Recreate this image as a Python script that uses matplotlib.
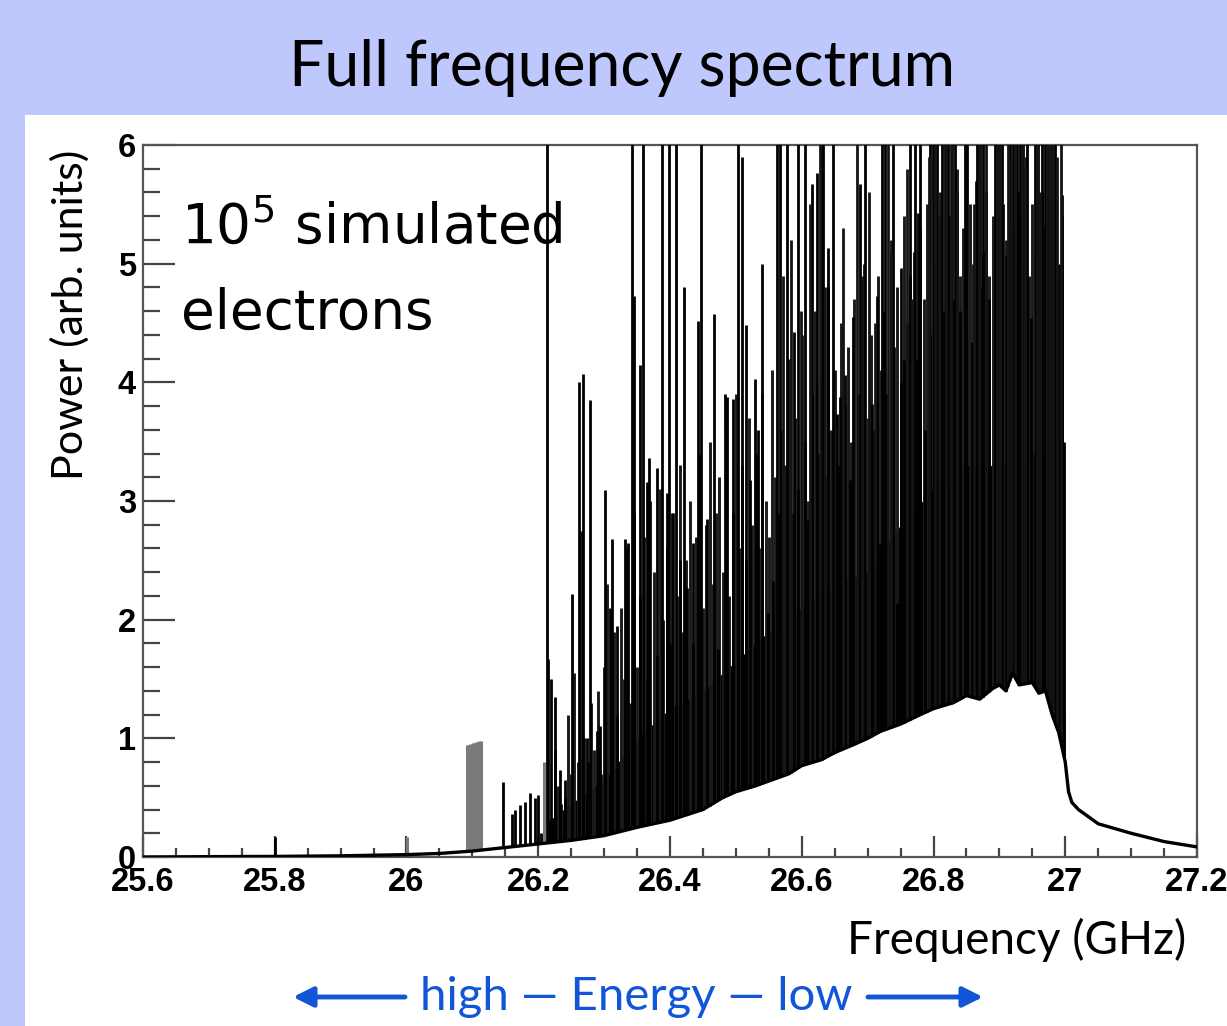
import numpy as np
import matplotlib
matplotlib.use("Agg")
import matplotlib.pyplot as plt
from matplotlib.patches import Rectangle, FancyArrowPatch
from matplotlib.ticker import MultipleLocator, FuncFormatter
from matplotlib.font_manager import FontProperties

# ---------------- data ----------------
# lower envelope of the spectrum (GHz, arb. units)
base_f = [25.60, 25.70, 25.80, 25.90, 26.00, 26.05, 26.10, 26.15, 26.20, 26.25,
          26.30, 26.35, 26.40, 26.45, 26.48, 26.50, 26.53, 26.55, 26.58, 26.60,
          26.63, 26.65, 26.68, 26.70, 26.72, 26.75, 26.78, 26.80, 26.83, 26.85,
          26.87, 26.89, 26.90, 26.91, 26.92, 26.93, 26.95, 26.96, 26.97, 26.98,
          26.99, 27.00, 27.005, 27.01, 27.02, 27.05, 27.10, 27.15, 27.20]
base_p = [0.00, 0.003, 0.005, 0.01, 0.02, 0.03, 0.05, 0.08, 0.11, 0.14,
          0.18, 0.25, 0.31, 0.40, 0.50, 0.55, 0.60, 0.64, 0.70, 0.77,
          0.82, 0.88, 0.95, 1.00, 1.06, 1.12, 1.20, 1.25, 1.30, 1.36,
          1.33, 1.42, 1.45, 1.40, 1.55, 1.45, 1.47, 1.38, 1.40, 1.20,
          1.05, 0.80, 0.55, 0.46, 0.40, 0.28, 0.20, 0.13, 0.085]

# upper edge of the solid black core
fill_f = [26.215, 26.25, 26.30, 26.35, 26.40, 26.45, 26.50, 26.55, 26.60, 26.65,
          26.70, 26.75, 26.80, 26.85, 26.90, 26.95, 26.998, 27.00]
fill_p = [0.30, 0.45, 0.65, 1.00, 1.25, 1.40, 1.65, 1.90, 2.10, 2.30,
          2.40, 2.80, 3.10, 3.30, 3.30, 3.40, 3.30, 0.80]

# dense medium-height lines of the spectrum (GHz, arb. units)
mid_f = [26.225, 26.230, 26.235, 26.240, 26.245, 26.250, 26.255, 26.260, 26.265, 26.270,
         26.275, 26.280, 26.285, 26.290, 26.295, 26.300, 26.305, 26.310, 26.315, 26.320,
         26.325, 26.330, 26.335, 26.340, 26.345, 26.350, 26.355, 26.360, 26.365, 26.370,
         26.375, 26.380, 26.385, 26.390, 26.395, 26.400, 26.405, 26.410, 26.415, 26.420,
         26.425, 26.430, 26.435, 26.440, 26.445, 26.450, 26.455, 26.460, 26.465, 26.470,
         26.475, 26.480, 26.485, 26.490, 26.495, 26.500, 26.505, 26.510, 26.515, 26.520,
         26.525, 26.530, 26.535, 26.540, 26.545, 26.550, 26.555, 26.560, 26.565, 26.570,
         26.575, 26.580, 26.585, 26.590, 26.595, 26.600, 26.605, 26.610, 26.615, 26.620,
         26.625, 26.630, 26.635, 26.640, 26.645, 26.650, 26.655, 26.660, 26.665, 26.670,
         26.675, 26.680, 26.685, 26.690, 26.695, 26.700, 26.705, 26.710, 26.715, 26.720,
         26.725, 26.730, 26.735, 26.740, 26.745, 26.750, 26.755, 26.760, 26.765, 26.770,
         26.775, 26.780, 26.785, 26.790, 26.795, 26.800, 26.805, 26.810, 26.815, 26.820,
         26.825, 26.830, 26.835, 26.840, 26.845, 26.850, 26.855, 26.860, 26.865, 26.870,
         26.875, 26.880, 26.885, 26.890, 26.895, 26.900, 26.905, 26.910, 26.915, 26.920,
         26.925, 26.930, 26.935, 26.940, 26.945, 26.950, 26.955, 26.960, 26.965, 26.970,
         26.975, 26.980, 26.985, 26.990, 26.995]
mid_p = [0.90, 0.60, 0.45, 0.50, 1.20, 0.70, 1.55, 0.80, 2.75, 1.00,
         0.80, 1.30, 0.90, 1.40, 0.70, 1.60, 2.30, 1.10, 1.90, 1.20,
         2.10, 1.50, 2.60, 1.30, 2.90, 1.60, 2.20, 2.70, 1.50, 3.00,
         2.40, 1.70, 3.10, 2.00, 2.60, 1.80, 2.90, 2.20, 3.30, 1.90,
         2.50, 3.00, 1.80, 2.70, 3.40, 2.10, 2.80, 3.50, 2.30, 2.90,
         3.20, 2.40, 3.60, 2.20, 2.90, 3.90, 2.60, 3.30, 2.50, 3.70,
         2.80, 3.40, 2.60, 3.90, 3.00, 2.70, 4.10, 3.20, 2.90, 3.60,
         3.30, 4.20, 2.90, 3.70, 3.10, 4.40, 3.50, 3.00, 3.90, 4.60,
         3.40, 4.00, 3.20, 4.80, 3.60, 4.10, 3.30, 4.50, 3.80, 4.30,
         3.50, 4.70, 3.90, 4.20, 5.00, 3.70, 4.40, 3.60, 4.90, 4.10,
         4.60, 3.90, 5.20, 4.30, 4.80, 4.00, 5.40, 4.50, 4.90, 5.10,
         4.20, 5.30, 4.70, 5.50, 4.40, 5.00, 4.80, 5.60, 4.60, 5.20,
         5.40, 4.70, 5.80, 4.90, 5.30, 4.50, 5.50, 5.00, 5.70, 4.80,
         5.10, 5.60, 4.90, 5.40, 5.90, 5.00, 5.50, 5.20, 5.80, 5.30,
         5.00, 5.60, 5.40, 5.90, 4.90, 5.50, 5.70, 5.10, 5.60, 5.30,
         5.80, 5.20, 5.50, 4.90, 5.40]

# individual strong spectral lines (GHz, arb. units)
spike_f = [25.800, 26.147, 26.160, 26.165, 26.172, 26.180, 26.187, 26.195, 26.200, 26.204,
           26.213, 26.215, 26.219, 26.225, 26.233, 26.241, 26.251, 26.262, 26.268, 26.279,
           26.274, 26.289, 26.294, 26.301, 26.309, 26.312, 26.320, 26.332, 26.336, 26.342,
           26.345, 26.354, 26.359, 26.365, 26.368, 26.380, 26.388, 26.395, 26.398, 26.403,
           26.409, 26.415, 26.421, 26.426, 26.435, 26.443, 26.447, 26.456, 26.467, 26.473,
           26.483, 26.487, 26.496, 26.503, 26.509, 26.515, 26.521, 26.529, 26.534, 26.540,
           26.549, 26.556, 26.562, 26.567, 26.578, 26.588, 26.594, 26.605, 26.609, 26.616,
           26.623, 26.631, 26.632, 26.640, 26.647, 26.653, 26.658, 26.666, 26.673, 26.678,
           26.688, 26.696, 26.707, 26.714, 26.719, 26.722, 26.726, 26.739, 26.745, 26.751,
           26.755, 26.764, 26.772, 26.776, 26.780, 26.787, 26.795, 26.799, 26.805, 26.813,
           26.817, 26.822, 26.828, 26.833, 26.840, 26.848, 26.851, 26.858, 26.866, 26.871,
           26.875, 26.884, 26.893, 26.898, 26.904, 26.910, 26.916, 26.921, 26.927, 26.931,
           26.936, 26.942, 26.948, 26.954, 26.959, 26.965, 26.969, 26.974, 26.980, 26.984,
           26.990, 26.995, 26.998]
spike_p = [0.17, 0.63, 0.36, 0.40, 0.44, 0.46, 0.54, 0.50, 0.52, 0.20,
           6.50, 1.67, 1.50, 1.35, 0.73, 0.65, 2.22, 4.00, 4.07, 3.85,
           1.00, 1.06, 1.10, 3.09, 2.10, 2.68, 1.95, 2.68, 2.65, 6.50,
           4.73, 4.15, 6.50, 3.16, 3.36, 3.28, 6.50, 3.07, 6.50, 2.90,
           6.50, 2.50, 4.80, 2.27, 2.65, 4.52, 6.50, 2.85, 4.58, 1.75,
           3.90, 3.88, 3.86, 6.50, 5.90, 4.48, 3.18, 4.03, 3.60, 5.00,
           2.06, 2.33, 6.50, 6.50, 6.50, 4.42, 6.50, 6.50, 2.84, 5.67,
           5.76, 6.50, 6.50, 5.13, 6.50, 3.73, 3.88, 4.06, 3.18, 4.55,
           5.67, 6.50, 3.82, 4.73, 2.64, 6.50, 6.50, 6.50, 2.14, 4.96,
           4.19, 6.50, 6.50, 5.43, 6.50, 3.60, 6.50, 6.50, 6.50, 6.50,
           6.50, 6.50, 6.50, 6.50, 4.60, 6.50, 6.50, 4.34, 6.50, 6.50,
           6.50, 4.70, 6.50, 6.50, 6.50, 5.07, 6.50, 6.50, 6.50, 6.50,
           6.50, 6.50, 4.54, 6.50, 6.50, 6.50, 6.50, 6.50, 6.50, 6.50,
           5.00, 5.58, 3.50]

# further tall lines in the crowded upper part
extra_f = [26.572, 26.583, 26.599, 26.613, 26.627, 26.636, 26.662, 26.684, 26.692, 26.702,
           26.711, 26.731, 26.735, 26.760, 26.768, 26.793, 26.802, 26.809, 26.819, 26.826,
           26.836, 26.862, 26.869, 26.879, 26.896, 26.901, 26.913, 26.918, 26.924, 26.934,
           26.939, 26.957, 26.962, 26.972, 26.977, 26.982, 26.987, 26.993]
extra_p = [4.90, 5.20, 4.60, 5.50, 6.50, 4.80, 5.30, 6.50, 4.90, 5.60,
           4.50, 6.50, 5.10, 5.80, 4.70, 5.90, 6.50, 5.40, 6.50, 6.50,
           5.60, 5.50, 6.50, 6.50, 6.50, 6.50, 6.50, 5.90, 6.50, 6.50,
           5.80, 6.50, 5.60, 6.50, 6.50, 6.50, 5.90, 6.50]

# fainter (grey) lines
gray_f = [26.001, 26.092, 26.094, 26.096, 26.099, 26.101, 26.103, 26.105, 26.108, 26.110,
          26.113, 26.209]
gray_p = [0.17, 0.94, 0.94, 0.95, 0.95, 0.96, 0.96, 0.97, 0.97, 0.98,
          0.98, 0.80]

xticks = [25.6, 25.8, 26.0, 26.2, 26.4, 26.6, 26.8, 27.0, 27.2]
yticks = [0, 1, 2, 3, 4, 5, 6]

# ---------------- figure ----------------
W, H = 1227, 1026
BLUE_BG = "#BEC8FC"
fig = plt.figure(figsize=(W / 100, H / 100), dpi=100, facecolor=BLUE_BG)
fig.patches.append(Rectangle((25 / W, 0), 1 - 25 / W, (H - 115) / H,
                             transform=fig.transFigure, facecolor="white",
                             edgecolor="none", zorder=-10))

ax = fig.add_axes([143 / W, (H - 857) / H, 1054 / W, 712 / H])
ax.set_zorder(1)
ax.set_xlim(25.6, 27.2)
ax.set_ylim(0, 6)

base_f_arr = np.array(base_f)

# solid core
grid = np.union1d(base_f_arr[(base_f_arr >= fill_f[0]) & (base_f_arr <= fill_f[-1])], fill_f)
lo = np.interp(grid, base_f, base_p)
hi = np.interp(grid, fill_f, fill_p)
ax.fill_between(grid, lo, np.maximum(lo, hi), color="black", lw=0, zorder=2)

# dense medium lines
mf = np.array(mid_f)
ax.vlines(mf, np.interp(mf, base_f, base_p), mid_p, color="#1a1a1a", lw=2.1, zorder=2)

# strong lines
sf = np.array(spike_f)
ax.vlines(sf, np.interp(sf, base_f, base_p), spike_p, color="black", lw=2.0, zorder=3)
ef = np.array(extra_f)
ax.vlines(ef, np.interp(ef, base_f, base_p), extra_p, color="#141414", lw=2.0, zorder=3)

# faint lines
gf = np.array(gray_f)
ax.vlines(gf, np.interp(gf, base_f, base_p), gray_p, color="#7a7a7a", lw=2.2, zorder=2)

# lower envelope line
ax.plot(base_f, base_p, color="black", lw=2.4, zorder=4)

# frame
for s in ax.spines.values():
    s.set_color("#555555")
    s.set_linewidth(1.6)

tick_font = FontProperties(family="Liberation Sans", weight="bold", size=23.5)
ax.set_xticks(xticks)
ax.set_yticks(yticks)
ax.xaxis.set_minor_locator(MultipleLocator(0.05))
ax.yaxis.set_minor_locator(MultipleLocator(0.2))
ax.xaxis.set_major_formatter(FuncFormatter(lambda v, p: f"{v:g}"))
ax.tick_params(axis="x", which="major", direction="in", length=15, width=1.6,
               color="#444444", pad=7)
ax.tick_params(axis="x", which="minor", direction="in", length=6.5, width=1.6,
               color="#444444")
ax.tick_params(axis="y", which="major", direction="in", length=23, width=1.6,
               color="#444444", pad=5)
ax.tick_params(axis="y", which="minor", direction="in", length=12, width=1.6,
               color="#444444")
for lab in ax.get_xticklabels() + ax.get_yticklabels():
    lab.set_fontproperties(tick_font)

# texts
TF = "Lato"
fig.text(622 / W, 1 - 68 / H, "Full frequency spectrum", ha="center", va="center",
         fontsize=45, family=TF, color="black")
fig.text(70 / W, 1 - 315 / H, "Power (arb. units)", rotation=90, ha="center",
         va="center", fontsize=31, family=TF)
plt.rcParams["mathtext.fontset"] = "custom"
plt.rcParams["mathtext.rm"] = "DejaVu Sans"
fig.text(181 / W, 1 - 243 / H, r"10$^{\mathregular{5}}$ simulated", ha="left",
         va="baseline", fontsize=39.5, family="DejaVu Sans", zorder=5)
fig.text(181 / W, 1 - 329 / H, "electrons", ha="left", va="baseline",
         fontsize=39.5, family="DejaVu Sans", zorder=5)
fig.text(1186 / W, 1 - 940 / H, "Frequency (GHz)", ha="right", va="center",
         fontsize=33, family=TF)

BLUE = "#1256D8"
fig.text(636 / W, 1 - 997 / H, "high \u2014 Energy \u2014 low", ha="center",
         va="center", fontsize=34, family=TF, color=BLUE)
arrow = dict(arrowstyle="-|>,head_length=1.0,head_width=0.5", color=BLUE, lw=3.5,
             shrinkA=0, shrinkB=0)
fig.add_artist(FancyArrowPatch((405 / W, 1 - 997 / H), (293 / W, 1 - 997 / H),
                               transform=fig.transFigure, mutation_scale=12, **arrow))
fig.add_artist(FancyArrowPatch((868 / W, 1 - 997 / H), (983 / W, 1 - 997 / H),
                               transform=fig.transFigure, mutation_scale=12, **arrow))

fig.savefig("out.png", dpi=100, facecolor=BLUE_BG)
